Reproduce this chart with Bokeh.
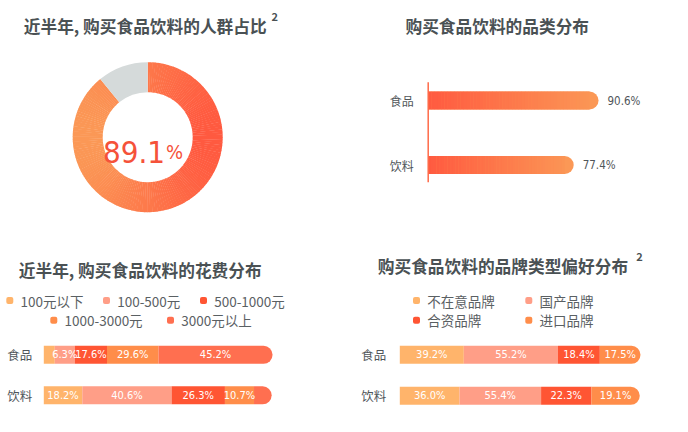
import numpy as np
from bokeh.plotting import figure
from bokeh.layouts import column, row
from bokeh.models import Range1d
from bokeh.core.properties import value
from bokeh.embed import file_html
from bokeh.resources import INLINE

# ---------------- data ----------------
donut_labels = ["购买", "未购买"]
donut_share = [89.1, 10.9]
donut_text = "89.1"

cat_names = ["食品", "饮料"]
cat_values = [90.6, 77.4]
cat_labels = ["90.6%", "77.4%"]

spend_levels = ["100元以下", "100-500元", "500-1000元", "1000-3000元", "3000元以上"]
# segment lengths as drawn in the picture (share of the bar)
spend_food_share = [4.8, 8.7, 14.1, 22.5, 49.8]
spend_drink_share = [16.8, 39.0, 23.3, 12.7, 7.7]
spend_food_labels = ["", "6.3%", "17.6%", "29.6%", "45.2%"]
spend_drink_labels = ["18.2%", "40.6%", "26.3%", "10.7%", ""]

brand_types = ["不在意品牌", "国产品牌", "合资品牌", "进口品牌"]
brand_food_share = [26.6, 39.1, 17.4, 16.9]
brand_drink_share = [24.8, 33.9, 20.9, 20.1]
brand_food_labels = ["39.2%", "55.2%", "18.4%", "17.5%"]
brand_drink_labels = ["36.0%", "55.4%", "22.3%", "19.1%"]

# ---------------- style ----------------
CJK = "Noto Sans CJK SC"
NUM = "'Liberation Sans Narrow', 'DejaVu Sans Condensed', Roboto, sans-serif"
TITLE_C = "#4A5154"
LABEL_C = "#50565A"
LEG_C = "#5A6063"
C_LIGHT = "#FFB46B"
C_SALMON = "#FF9E87"
C_RED = "#FF5533"
C_ORANGE = "#FF8D4A"
C_CORAL = "#FF6F50"
spend_colors = [C_LIGHT, C_SALMON, C_RED, C_ORANGE, C_CORAL]
brand_colors = [C_LIGHT, C_SALMON, C_RED, C_ORANGE]
GRAD_RED = (255, 90, 64)
GRAD_ORANGE = (251, 152, 86)
GRAY = "#D5DADA"

W, H = 344, 216


def lerp_color(a, b, t):
    c = [int(round(a[i] + (b[i] - a[i]) * t)) for i in range(3)]
    return "#%02x%02x%02x" % tuple(c)


def panel(x0, k):
    p = figure(width=W, height=H, x_range=Range1d(-x0 / k, (W - x0) / k),
               y_range=Range1d(0, H), toolbar_location=None, output_backend="svg",
               min_border=0, x_axis_type=None, y_axis_type=None,
               outline_line_color=None, background_fill_color="white",
               border_fill_color="white")
    p.grid.visible = False
    return p


def txt(p, x, y, s, size, color, font=CJK, bold=False, align="left", baseline="middle"):
    p.text(x=[x], y=[y], text=[s], text_font=value(font), text_font_size=f"{size}px",
           text_color=color, text_font_style="bold" if bold else "normal",
           text_align=align, text_baseline=baseline)


RIGHT_ROUND = dict(top_left=0, top_right=9, bottom_right=9, bottom_left=0)

# ---------------- panel A : donut ----------------
pA = panel(0, 1)
cx, cy = 147.2, H - 136.7
share0 = donut_share[0] / sum(donut_share)
a_end = np.pi / 2
a_start = np.pi / 2 - 2 * np.pi * share0
N = 160
edges = np.linspace(a_start, a_end, N + 1)
starts = edges[:-1]
ends = np.minimum(edges[1:] + 0.006, a_end)
mids = (edges[:-1] + edges[1:]) / 2
cols = [lerp_color(GRAD_ORANGE, GRAD_RED, (1 + np.cos(m)) / 2) for m in mids]
pA.annular_wedge(x=[cx] * N, y=[cy] * N, inner_radius=45, outer_radius=75,
                 inner_radius_units="screen", outer_radius_units="screen",
                 start_angle=starts, end_angle=ends, direction="anticlock",
                 fill_color=cols, line_color=None)
pA.annular_wedge(x=[cx], y=[cy], inner_radius=45, outer_radius=75,
                 inner_radius_units="screen", outer_radius_units="screen",
                 start_angle=[a_end], end_angle=[a_start + 2 * np.pi], direction="anticlock",
                 fill_color=GRAY, line_color=None)
txt(pA, 164.5, H - 151.7, donut_text, 31, "#F5523A", font=NUM, align="right",
    baseline="alphabetic")
txt(pA, 165.5, H - 151.7, "%", 20, "#F5523A", font=NUM, align="left",
    baseline="alphabetic")
txt(pA, 23.3, H - 25, "近半年, 购买食品饮料的人群占比", 16.7, TITLE_C, bold=True)
txt(pA, 271, H - 16, "2", 11, TITLE_C, bold=True)

# ---------------- panel B : category bars ----------------
kB = 1.88
x0B = 427.7 - 344
pB = panel(x0B, kB)
yB = [H - 100, H - 164.5]
barh = 18
pB.hbar(y=yB, left=0, right=cat_values, height=barh,
        fill_color=lerp_color(GRAD_ORANGE, GRAD_RED, 0.0), line_color=None,
        border_radius=RIGHT_ROUND)
NS = 50
for yy, v in zip(yB, cat_values):
    L = v - 9 / kB
    e = np.linspace(0, L, NS + 1)
    lefts = e[:-1]
    rights = np.minimum(e[1:] + 0.15, L)
    cs = [lerp_color(GRAD_RED, GRAD_ORANGE, ((a + b) / 2) / v) for a, b in zip(e[:-1], e[1:])]
    pB.quad(left=lefts, right=rights, top=yy + barh / 2, bottom=yy - barh / 2,
            fill_color=cs, line_color=None)
pB.segment(x0=[0], y0=[H - 81.7], x1=[0], y1=[H - 181.7], line_color="#FF6A48",
           line_width=1.5)
for yy, v, nm, lb in zip(yB, cat_values, cat_names, cat_labels):
    txt(pB, -14.4 / kB, yy, nm, 12, LABEL_C, align="right")
    txt(pB, v + 9 / kB, yy, lb, 11.5, LABEL_C, font=NUM)
txt(pB, (405 - 344 - x0B) / kB, H - 25, "购买食品饮料的品类分布", 16.7, TITLE_C, bold=True)


# ---------------- stacked helper ----------------
def stacked(p, yy, shares, labels, colors):
    lefts = np.concatenate([[0], np.cumsum(shares)[:-1]])
    rights = np.cumsum(shares)
    n = len(shares)
    p.hbar(y=[yy] * (n - 1), left=lefts[:-1], right=rights[:-1], height=18,
           fill_color=colors[:n - 1], line_color=None)
    p.hbar(y=[yy], left=[lefts[-1]], right=[rights[-1]], height=18,
           fill_color=colors[n - 1], line_color=None, border_radius=RIGHT_ROUND)
    for l, r, lb in zip(lefts, rights, labels):
        if lb:
            txt(p, (l + r) / 2, yy, lb, 11, "white", font=NUM, align="center")


def legend(p, items, names, colors, x0, k):
    for (sx, sy), name, c in zip(items, names, colors):
        p.rect(x=[(sx - x0) / k], y=[432 - sy], width=7, height=7, width_units="screen",
               height_units="screen", fill_color=c, line_color=None, border_radius=2)
        txt(p, (sx + 10.7 - x0) / k, 432 - sy, name, 13.5, LEG_C)


# ---------------- panel C : spending ----------------
kC = 2.29
x0C = 43.3
pC = panel(x0C, kC)
txt(pC, (18.3 - x0C) / kC, 432 - 269, "近半年, 购买食品饮料的花费分布", 16.7, TITLE_C, bold=True)
legC = [(9.3, 300), (106, 300), (203, 300), (53.3, 319.7), (170, 319.7)]
legend(pC, legC, spend_levels, spend_colors, x0C, kC)
yC = [432 - 354.3, 432 - 394.8]
stacked(pC, yC[0], spend_food_share, spend_food_labels, spend_colors)
stacked(pC, yC[1], spend_drink_share, spend_drink_labels, spend_colors)
for yy, nm in zip(yC, cat_names):
    txt(pC, (6.7 - x0C) / kC, yy, nm, 12.5, LABEL_C)

# ---------------- panel D : brand ----------------
kD = 2.407
x0D = 399.3 - 344
pD = panel(x0D, kD)
txt(pD, (377.3 - 344 - x0D) / kD, 432 - 265, "购买食品饮料的品牌类型偏好分布", 16.7, TITLE_C, bold=True)
txt(pD, (635.7 - 344 - x0D) / kD, 432 - 256, "2", 11, TITLE_C, bold=True)
legD = [(72, 300), (184.3, 300), (72, 319.7), (184.3, 319.7)]
legend(pD, legD, brand_types, brand_colors, x0D, kD)
yD = [432 - 354.3, 432 - 395.3]
stacked(pD, yD[0], brand_food_share, brand_food_labels, brand_colors)
stacked(pD, yD[1], brand_drink_share, brand_drink_labels, brand_colors)
for yy, nm in zip(yD, cat_names):
    txt(pD, (360.7 - 344 - x0D) / kD, yy, nm, 12.5, LABEL_C)

layout = column(row(pA, pB), row(pC, pD))
open("out.html", "w").write(file_html(layout, INLINE))
